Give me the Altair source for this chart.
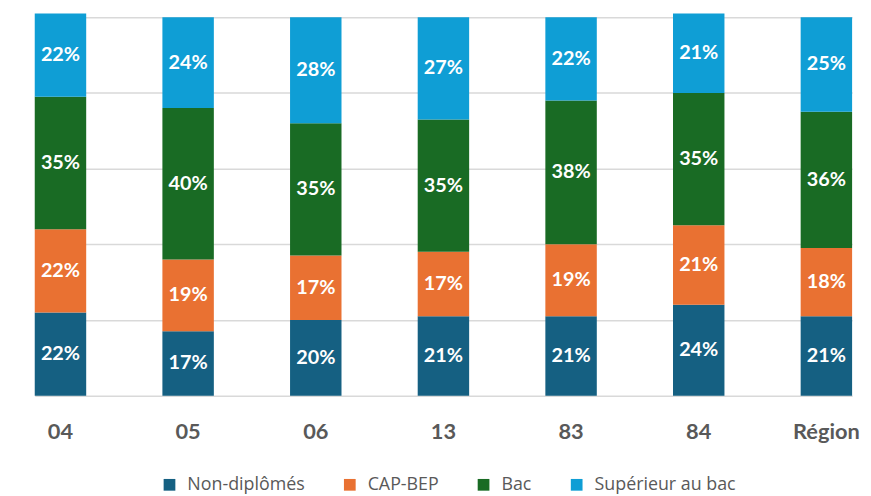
import altair as alt
import pandas as pd

regions = ["04", "05", "06", "13", "83", "84", "Région"]
series = ["Non-diplômés", "CAP-BEP", "Bac", "Supérieur au bac"]
colors = ["#156082", "#E97132", "#196B24", "#0F9ED5"]

non_diplomes = [22, 17, 20, 21, 21, 24, 21]
cap_bep = [22, 19, 17, 17, 19, 21, 18]
bac = [35, 40, 35, 35, 38, 35, 36]
superieur = [22, 24, 28, 27, 22, 21, 25]

rows = []
for si, (name, vals) in enumerate(zip(series, [non_diplomes, cap_bep, bac, superieur])):
    for r, v in zip(regions, vals):
        rows.append({"region": r, "serie": name, "value": v, "order": si})
df = pd.DataFrame(rows)

FONT = "Lato"

base = alt.Chart(df).transform_stack(
    stack="value", groupby=["region"], as_=["y0", "y1"],
    sort=[alt.SortField("order", order="ascending")]
).transform_calculate(
    mid="(datum.y0 + datum.y1) / 2",
    label="datum.value + '%'"
)

xscale = alt.Scale(range=[13, 838], paddingInner=0.597, paddingOuter=0, round=False)

xenc = alt.X("region:N", sort=regions, title=None, scale=xscale,
             axis=alt.Axis(labelAngle=0, labelFont=FONT, labelFontSize=22,
                           labelFontWeight="bold", labelColor="#595959",
                           labelPadding=26, ticks=False, domain=False, grid=False))

bars = base.mark_bar().encode(
    x=xenc,
    y=alt.Y("y0:Q", title=None,
            scale=alt.Scale(domain=[0, 100], nice=False),
            axis=alt.Axis(values=[0, 20, 40, 60, 80, 100], labels=False, ticks=False,
                          domain=False, gridColor="#d9d9d9", gridWidth=1.5)),
    y2="y1:Q",
    color=alt.Color("serie:N", sort=series,
                    scale=alt.Scale(domain=series, range=colors),
                    legend=alt.Legend(title=None, orient="none", direction="horizontal",
                                      legendX=140, legendY=463,
                                      symbolType="square", symbolSize=140,
                                      symbolStrokeWidth=0, symbolOffset=0,
                                      labelFont="Open Sans", labelFontSize=18,
                                      labelColor="#595959", labelOffset=9,
                                      columnPadding=36, labelLimit=300)),
)

labels = base.mark_text(color="white", font=FONT, fontSize=20, fontWeight="bold",
                        baseline="middle", align="center").encode(
    x=alt.X("region:N", sort=regions, scale=xscale),
    y=alt.Y("mid:Q"),
    text="label:N",
)

chart = alt.layer(bars, labels).properties(
    width=849, height=382,
    autosize=alt.AutoSizeParams(type="none"),
    padding={"left": 14, "top": 7, "right": 0, "bottom": 98},
).configure_view(stroke=None)

chart.save("out.html", embed_options={"renderer": "svg", "actions": False})
